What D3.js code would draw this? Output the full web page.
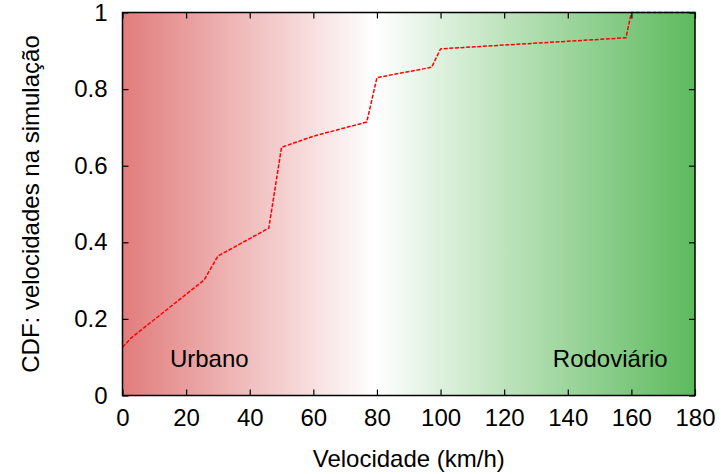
<!DOCTYPE html>
<html>
<head>
<meta charset="utf-8">
<script src="https://cdn.jsdelivr.net/npm/d3@7"></script>
<style>
  html, body { margin: 0; padding: 0; background: #fff; }
  svg { display: block; font-family: "Liberation Sans", Arial, Helvetica, sans-serif; }
</style>
</head>
<body>
<svg id="chart" width="721" height="474"></svg>
<script>
// Empirical CDF of simulated vehicle speeds
const speeds = [0, 2.7, 25.7, 30, 46, 50, 60, 76.8, 80, 97.2, 100, 158.3, 160, 180];
const cdf    = [0.126, 0.15, 0.302, 0.364, 0.437, 0.648, 0.677, 0.714, 0.83, 0.857, 0.905, 0.934, 1.0, 1.0];

const xTicks = [0, 20, 40, 60, 80, 100, 120, 140, 160, 180];
const yTicks = [0, 0.2, 0.4, 0.6, 0.8, 1];

// Region annotations: label text and the speed at which it starts
const regionLabels = ["Urbano", "Rodoviário"];
const regionLabelX = [14.9, 135.3];
const regionLabelY = [0.075, 0.075];

const xLabel = "Velocidade (km/h)";
const yLabel = "CDF: velocidades na simulação";

const svg = d3.select("#chart");
const plotL = 122.5, plotR = 695, plotT = 12.5, plotB = 395.5;

const x = d3.scaleLinear().domain([0, 180]).range([plotL, plotR]);
const y = d3.scaleLinear().domain([0, 1]).range([plotB, plotT]);

// Background gradient: red (urban) -> white -> green (highway)
const defs = svg.append("defs");
const grad = defs.append("linearGradient")
  .attr("id", "bg").attr("x1", "0%").attr("x2", "100%").attr("y1", "0%").attr("y2", "0%");
grad.append("stop").attr("offset", "0%").attr("stop-color", "#e27c7c");
grad.append("stop").attr("offset", "44%").attr("stop-color", "#ffffff");
grad.append("stop").attr("offset", "100%").attr("stop-color", "#5dba5d");

svg.append("rect")
  .attr("x", plotL).attr("y", plotT)
  .attr("width", plotR - plotL).attr("height", plotB - plotT)
  .attr("fill", "url(#bg)");

// Region labels
svg.selectAll("text.region")
  .data(regionLabels)
  .join("text")
  .attr("class", "region")
  .attr("x", (d, i) => x(regionLabelX[i]))
  .attr("y", (d, i) => y(regionLabelY[i]))
  .attr("font-size", 24)
  .attr("fill", "#000")
  .text(d => d);

// CDF line
const pts = speeds.map((s, i) => [s, cdf[i]]);
const line = d3.line().x(d => x(d[0])).y(d => y(d[1]));
svg.append("path")
  .datum(pts)
  .attr("d", line)
  .attr("fill", "none")
  .attr("stroke", "#ff0000")
  .attr("stroke-width", 1.5)
  .attr("stroke-dasharray", "4,1.6");

// Axes with inward ticks on all four sides
const tickLen = 6;
const gx = svg.append("g").attr("transform", `translate(0,${plotB})`)
  .call(d3.axisBottom(x).tickValues(xTicks).tickSize(-tickLen).tickPadding(13).tickFormat(d3.format("d")));
const gxt = svg.append("g").attr("transform", `translate(0,${plotT})`)
  .call(d3.axisTop(x).tickValues(xTicks).tickSize(-tickLen).tickFormat(""));
const gy = svg.append("g").attr("transform", `translate(${plotL},0)`)
  .call(d3.axisLeft(y).tickValues(yTicks).tickSize(-tickLen).tickPadding(15).tickFormat(d => d3.format("")(d)));
const gyr = svg.append("g").attr("transform", `translate(${plotR},0)`)
  .call(d3.axisRight(y).tickValues(yTicks).tickSize(-tickLen).tickFormat(""));

[gx, gxt, gy, gyr].forEach(g => {
  g.select(".domain").remove();
  g.selectAll(".tick line").attr("stroke", "#000").attr("stroke-width", 1.2);
  g.selectAll("text").attr("font-size", 24).attr("fill", "#000")
    .attr("font-family", "\"Liberation Sans\", Arial, Helvetica, sans-serif");
});

// Plot frame
svg.append("rect")
  .attr("x", plotL).attr("y", plotT)
  .attr("width", plotR - plotL).attr("height", plotB - plotT)
  .attr("fill", "none").attr("stroke", "#000").attr("stroke-width", 1.5);

// Axis titles
svg.append("text")
  .attr("x", (plotL + plotR) / 2).attr("y", 467)
  .attr("text-anchor", "middle").attr("font-size", 24).attr("fill", "#000")
  .text(xLabel);

svg.append("text")
  .attr("transform", `translate(39,${(plotT + plotB) / 2}) rotate(-90)`)
  .attr("text-anchor", "middle").attr("font-size", 24).attr("fill", "#000")
  .text(yLabel);
</script>
</body>
</html>
